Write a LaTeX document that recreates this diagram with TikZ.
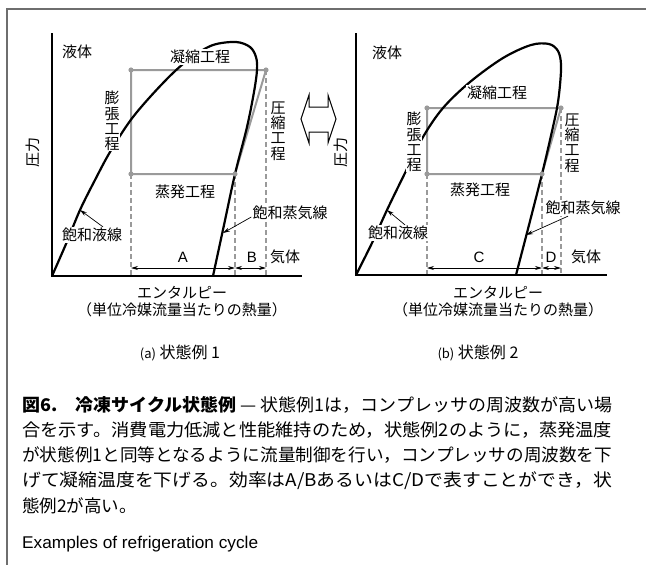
\documentclass[tikz,border=0pt]{standalone}
\usepackage{fontspec}
\usepackage{graphicx}
\setmainfont{Noto Sans CJK JP}
\newfontfamily\lat{Liberation Sans}
\usetikzlibrary{arrows.meta}
\definecolor{cyc}{HTML}{9A9A9A}
\definecolor{frm}{HTML}{6E6E6E}
\tikzset{
  lbl/.style={font=\fontsize{15}{16}\selectfont, inner sep=1pt},
  wlbl/.style={lbl, fill=white},
  ltr/.style={font=\lat\fontsize{15}{16}\selectfont, inner sep=1pt},
  vlbl/.style={font=\fontsize{15}{15.3}\selectfont, align=center, inner sep=0.5pt, fill=white},
  domeln/.style={line width=2.2pt, line join=round},
  cyclin/.style={draw=cyc, line width=2pt, line join=round},
  vdash/.style={draw=cyc, line width=1.3pt, dash pattern=on 5pt off 3pt},
  axisln/.style={line width=1.5pt},
  dimarr/.style={line width=0.7pt, {Stealth[length=7pt,width=4pt]}-{Stealth[length=7pt,width=4pt]}},
  ptr/.style={line width=0.7pt, -{Stealth[length=7pt,width=4pt]}},
  captxt/.style={font=\fontsize{17.5}{20}\selectfont, inner sep=0pt, anchor=west},
  subcap/.style={font=\fontsize{16}{18}\selectfont, inner sep=1pt}
}
\newcommand{\cornerdot}[1]{\fill[cyc] (#1) circle (2.6pt);}
\newcommand{\capline}[1]{\resizebox{590pt}{\height}{#1}}
\begin{document}
\begin{tikzpicture}[x=1pt, y=-1pt]
\useasboundingbox (0,0) rectangle (646,565);
% frame
\draw[frm, line width=1.5pt] (646,9) -- (7,9) -- (7,565);

% ================= panel (a) =================
\coordinate (aO) at (52,276);
\coordinate (aYT) at (52,33);
\coordinate (aXE) at (302,276);
\coordinate (aTL) at (131,70);
\coordinate (aTR) at (266,70);
\coordinate (aBL) at (131,174);
\coordinate (aBR) at (235,174);
\coordinate (aBLx) at (131,276);
\coordinate (aBRx) at (235,276);
\coordinate (aTRx) at (266,276);
\coordinate (aD1) at (131,268);
\coordinate (aD2) at (235,268);
\coordinate (aD3) at (266,268);
\coordinate (aSL) at (80,210);
\coordinate (aSV) at (223,233);

\draw[vdash] (aBL) -- (aBLx);
\draw[vdash] (aBR) -- (aBRx);
\draw[vdash] (aTR) -- (aTRx);
\draw[cyclin] (aTL) -- (aTR) -- (aBR) -- (aBL) -- cycle;
\draw[domeln] plot[smooth, tension=0.55] coordinates {(52,276) (66,244) (80,210) (95,180) (110,152) (130,121) (150,97) (173,73) (192,57) (213,45) (236,42) (250,47) (256,57) (257,70) (254,92) (247,127) (235,174) (224,225) (213,276)};
\foreach \p in {aTL,aTR,aBL,aBR} {\cornerdot{\p}}
\draw[axisln] (aYT) -- (aO) -- (aXE);
\draw[dimarr] (aD1) -- (aD2);
\draw[dimarr] (aD2) -- (aD3);

\node[lbl] (liqA) at (77,52) {液体};
\node[wlbl] (condA) at (200,57) {凝縮工程};
\node[vlbl] (expA) at (112,121) {膨\\張\\工\\程};
\node[vlbl] (compA) at (278,131) {圧\\縮\\工\\程};
\node[lbl, rotate=90] (presA) at (33,152) {圧力};
\node[lbl] (evapA) at (185,192) {蒸発工程};
\node[wlbl] (satvapA) at (290,213) {飽和蒸気線};
\node[wlbl] (satliqA) at (92,235) {飽和液線};
\node[ltr] (lA) at (183,257) {A};
\node[ltr] (lB) at (252,257) {B};
\node[lbl] (gasA) at (285,257) {気体};
\node[lbl] (enthA) at (182,293) {エンタルピー};
\node[lbl] (unitA) at (182,310) {（単位冷媒流量当たりの熱量）};
\node[subcap] (scA) at (180,353) {{\fontsize{13}{14}\selectfont (a)} 状態例 1};
\draw[ptr] ([yshift=-4pt]satvapA.west) -- (aSV);
\draw[ptr] ([xshift=11pt]satliqA.north) -- (aSL);

% ================= switch arrow =================
\draw[line width=1pt, fill=white] (301,119) -- (309,95) -- (309,107) -- (328,107) -- (328,95) -- (336,119) -- (328,143) -- (328,132) -- (309,132) -- (309,143) -- cycle;

% ================= panel (b) =================
\coordinate (bO) at (356,275);
\coordinate (bYT) at (356,33);
\coordinate (bXE) at (607,275);
\coordinate (bTL) at (427,108);
\coordinate (bTR) at (561,108);
\coordinate (bBL) at (427,174);
\coordinate (bBR) at (542,174);
\coordinate (bBLx) at (427,275);
\coordinate (bBRx) at (542,275);
\coordinate (bTRx) at (561,275);
\coordinate (bD1) at (427,268);
\coordinate (bD2) at (542,268);
\coordinate (bD3) at (561,268);
\coordinate (bSL) at (387,210);
\coordinate (bSV) at (526,235);

\draw[vdash] (bBL) -- (bBLx);
\draw[vdash] (bBR) -- (bBRx);
\draw[vdash] (bTR) -- (bTRx);
\draw[cyclin] (bTL) -- (bTR) -- (bBR) -- (bBL) -- cycle;
\draw[domeln] plot[smooth, tension=0.55] coordinates {(356,275) (372,243) (387,210) (405,173) (423,137) (443,108) (470,82) (503,58) (531,45) (549,44) (558,51) (561,64) (560,85) (557,108) (550,140) (542,174) (529,225) (516,275)};
\foreach \p in {bTL,bTR,bBL,bBR} {\cornerdot{\p}}
\draw[axisln] (bYT) -- (bO) -- (bXE);
\draw[dimarr] (bD1) -- (bD2);
\draw[dimarr] (bD2) -- (bD3);

\node[lbl] (liqB) at (387,53) {液体};
\node[wlbl] (condB) at (497,93) {凝縮工程};
\node[vlbl] (expB) at (414,142) {膨\\張\\工\\程};
\node[vlbl] (compB) at (572,143) {圧\\縮\\工\\程};
\node[lbl, rotate=90] (presB) at (341,152) {圧力};
\node[lbl] (evapB) at (480,190) {蒸発工程};
\node[wlbl] (satvapB) at (583,208) {飽和蒸気線};
\node[wlbl] (satliqB) at (398,233) {飽和液線};
\node[ltr] (lC) at (479,257) {C};
\node[ltr] (lD) at (551,257) {D};
\node[lbl] (gasB) at (586,257) {気体};
\node[lbl] (enthB) at (498,293) {エンタルピー};
\node[lbl] (unitB) at (498,310) {（単位冷媒流量当たりの熱量）};
\node[subcap] (scB) at (478,353) {{\fontsize{13}{14}\selectfont (b)} 状態例 2};
\draw[ptr] ([xshift=-15pt]satvapB.south) -- (bSV);
\draw[ptr] ([xshift=7pt]satliqB.north) -- (bSL);

% ================= caption =================
\node[captxt] (c1) at (22,405) {\capline{{\bfseries 図6.　冷凍サイクル状態例} — 状態例1は，コンプレッサの周波数が高い場}};
\node[captxt] (c2) at (22,430) {\capline{合を示す。消費電力低減と性能維持のため，状態例2のように，蒸発温度}};
\node[captxt] (c3) at (22,455) {\capline{が状態例1と同等となるように流量制御を行い，コンプレッサの周波数を下}};
\node[captxt] (c4) at (22,481) {\capline{げて凝縮温度を下げる。効率はA/BあるいはC/Dで表すことができ，状}};
\node[captxt] (c5) at (22,506) {態例2が高い。};
\node[font=\lat\fontsize{17}{19}\selectfont, anchor=west, inner sep=0pt] (c6) at (22,544) {\resizebox{236pt}{\height}{Examples of refrigeration cycle}};
\end{tikzpicture}
\end{document}
